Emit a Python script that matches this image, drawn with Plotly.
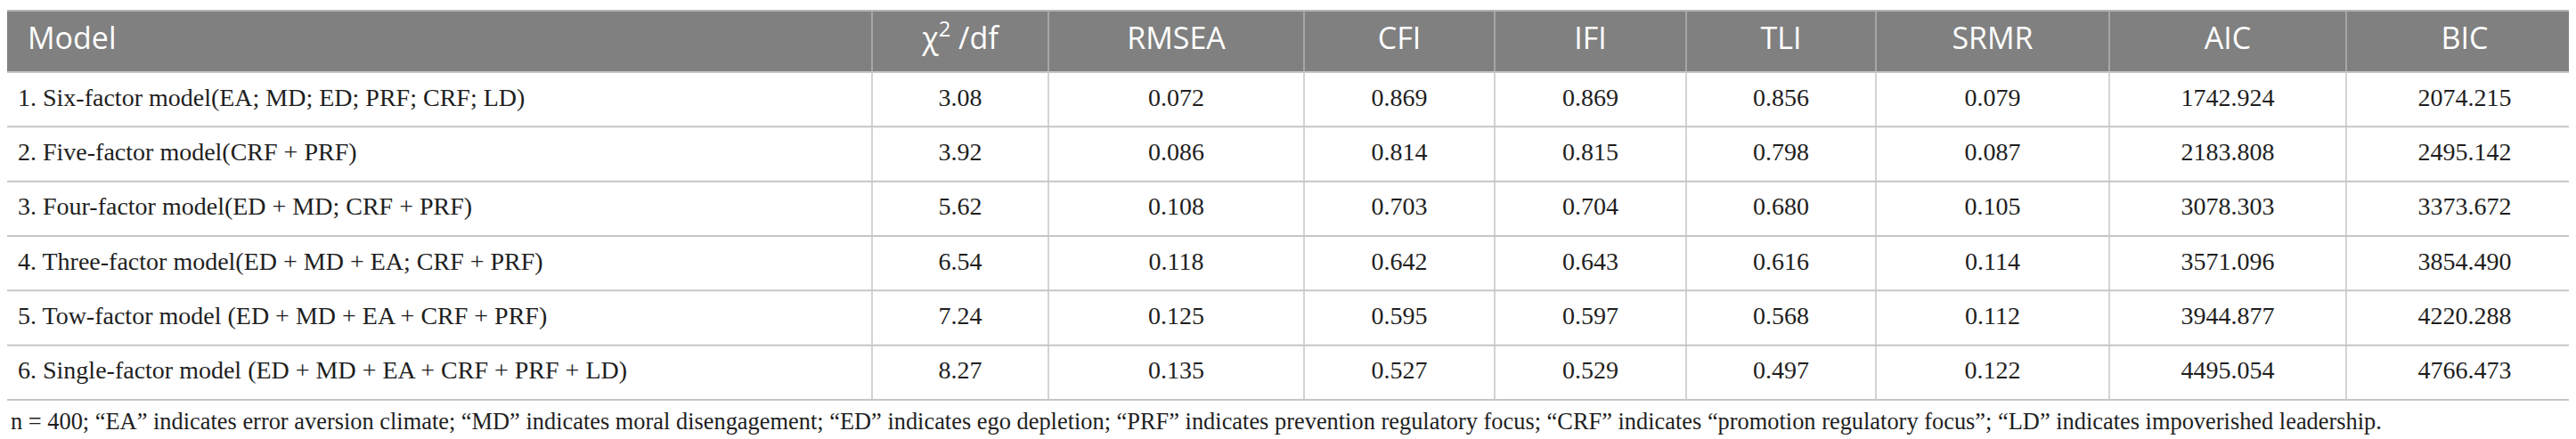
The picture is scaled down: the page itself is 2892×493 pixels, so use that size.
import plotly.graph_objects as go

W, H = 2892, 493

HEADER_BG = "#808080"
HEADER_LINE = "#b3b3b3"
CELL_LINE = "#c6c6c6"
TEXT = "#1e1e1e"
HEAD_FONT = "Open Sans"
BODY_FONT = "Liberation Serif"

headers = ["Model", "χ<sup>2</sup> /df", "RMSEA", "CFI", "IFI", "TLI", "SRMR", "AIC", "BIC"]

models = [
    "1. Six-factor model(EA; MD; ED; PRF; CRF; LD)",
    "2. Five-factor model(CRF + PRF)",
    "3. Four-factor model(ED + MD; CRF + PRF)",
    "4. Three-factor model(ED + MD + EA; CRF + PRF)",
    "5. Tow-factor model (ED + MD + EA + CRF + PRF)",
    "6. Single-factor model (ED + MD + EA + CRF + PRF + LD)",
]
chi2_df = ["3.08", "3.92", "5.62", "6.54", "7.24", "8.27"]
rmsea = ["0.072", "0.086", "0.108", "0.118", "0.125", "0.135"]
cfi = ["0.869", "0.814", "0.703", "0.642", "0.595", "0.527"]
ifi = ["0.869", "0.815", "0.704", "0.643", "0.597", "0.529"]
tli = ["0.856", "0.798", "0.680", "0.616", "0.568", "0.497"]
srmr = ["0.079", "0.087", "0.105", "0.114", "0.112", "0.122"]
aic = ["1742.924", "2183.808", "3078.303", "3571.096", "3944.877", "4495.054"]
bic = ["2074.215", "2495.142", "3373.672", "3854.490", "4220.288", "4766.473"]

note = ("n = 400; “EA” indicates error aversion climate; “MD” indicates moral disengagement; "
        "“ED” indicates ego depletion; “PRF” indicates prevention regulatory focus; "
        "“CRF” indicates “promotion regulatory focus”; “LD” indicates impoverished leadership.")

# layout of the grid (pixels)
col_widths = [971, 198, 287, 214, 215, 213, 262, 266, 266]
TOP = 4
HEAD_H = 69
ROW_H = 61.33

columns = [models, chi2_df, rmsea, cfi, ifi, tli, srmr, aic, bic]

edges = [0]
for w in col_widths:
    edges.append(edges[-1] + w)
centers = [(edges[i] + edges[i + 1]) / 2 for i in range(len(col_widths))]
row_tops = [TOP + HEAD_H + i * ROW_H for i in range(len(models) + 1)]
bottom = row_tops[-1]

fig = go.Figure()

# header background
fig.add_shape(type="rect", x0=0, x1=W, y0=TOP, y1=TOP + HEAD_H,
              fillcolor=HEADER_BG, line_width=0, layer="below")

# lines
fig.add_shape(type="line", x0=0, x1=W, y0=TOP, y1=TOP, line=dict(color=HEADER_LINE, width=2))
for e in edges[1:-1]:
    fig.add_shape(type="line", x0=e, x1=e, y0=TOP, y1=TOP + HEAD_H,
                  line=dict(color=HEADER_LINE, width=1.5))
    fig.add_shape(type="line", x0=e, x1=e, y0=TOP + HEAD_H, y1=bottom,
                  line=dict(color=CELL_LINE, width=1.5))
for y in row_tops:
    fig.add_shape(type="line", x0=0, x1=W, y0=y, y1=y, line=dict(color=CELL_LINE, width=2))

# header text
head_x = [edges[0] + 23] + centers[1:]
head_pos = ["middle right"] + ["middle center"] * (len(headers) - 1)
fig.add_trace(go.Scatter(
    x=head_x, y=[TOP + HEAD_H / 2] * len(headers),
    text=headers, mode="text", textposition=head_pos,
    textfont=dict(family=HEAD_FONT, size=34, color="white"),
    hoverinfo="skip", cliponaxis=False, showlegend=False,
))

# body text
row_mid = [t + ROW_H / 2 for t in row_tops[:-1]]
for i, col in enumerate(columns):
    fig.add_trace(go.Scatter(
        x=[edges[i] + 12 if i == 0 else centers[i]] * len(col),
        y=row_mid,
        text=col, mode="text",
        textposition="middle right" if i == 0 else "middle center",
        textfont=dict(family=BODY_FONT, size=28, color=TEXT),
        hoverinfo="skip", cliponaxis=False, showlegend=False,
    ))

fig.add_annotation(
    text=note, xref="x", yref="y", x=2, y=465,
    xanchor="left", yanchor="middle", showarrow=False,
    font=dict(family=BODY_FONT, size=26.4, color=TEXT),
)

fig.update_layout(
    width=W, height=H,
    margin=dict(l=0, r=0, t=0, b=0),
    paper_bgcolor="white", plot_bgcolor="white",
    xaxis=dict(range=[0, W], visible=False, fixedrange=True),
    yaxis=dict(range=[H, 0], visible=False, fixedrange=True),
)

fig.write_html("out.html")
